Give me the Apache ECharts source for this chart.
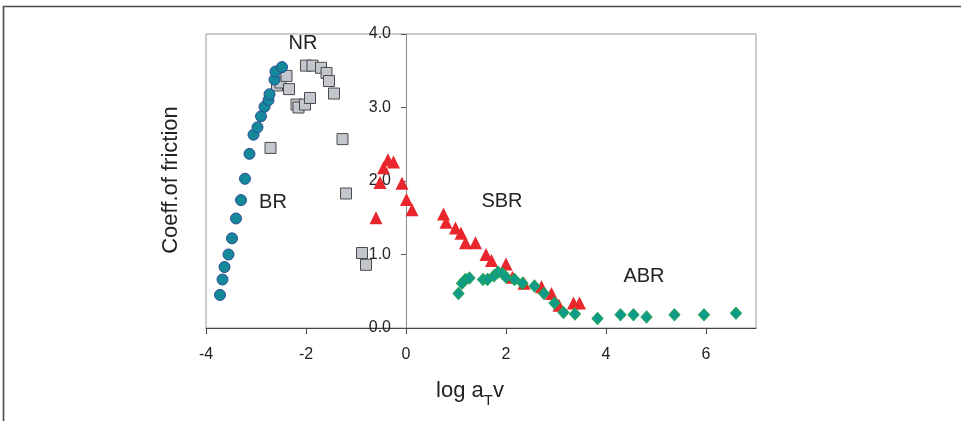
<!DOCTYPE html>
<html>
<head>
<meta charset="utf-8">
<script src="https://cdn.jsdelivr.net/npm/echarts@6/dist/echarts.min.js"></script>
<style>
  html, body { margin: 0; padding: 0; background: #fff; }
  #chart { width: 961px; height: 421px; }
</style>
</head>
<body>
<div id="chart"></div>
<script>
// ---- Data (log aT v, coefficient of friction) ----
const brX = [-3.72, -3.67, -3.63, -3.55, -3.48, -3.40, -3.30, -3.22, -3.13, -3.05, -2.97, -2.90, -2.83, -2.75, -2.73, -2.63, -2.61, -2.48];
const brY = [0.45, 0.66, 0.83, 1.00, 1.22, 1.49, 1.74, 2.03, 2.37, 2.63, 2.73, 2.88, 3.01, 3.10, 3.18, 3.38, 3.49, 3.55];

const nrX = [-2.71, -2.58, -2.51, -2.39, -2.34, -2.19, -2.15, -2.02, -1.92, -2.00, -1.87, -1.70, -1.59, -1.54, -1.44, -1.27, -1.20, -0.88, -0.80];
const nrY = [2.45, 3.30, 3.34, 3.43, 3.25, 3.04, 3.00, 3.04, 3.13, 3.57, 3.57, 3.54, 3.47, 3.36, 3.19, 2.57, 1.83, 1.02, 0.86];

const sbrX = [-0.60, -0.52, -0.45, -0.36, -0.25, -0.08, 0.01, 0.12, 0.75, 0.80, 0.99, 1.10, 1.19, 1.39, 1.60, 1.71, 2.00, 2.13, 2.36, 2.71, 2.91, 3.06, 3.35, 3.47];
const sbrY = [1.50, 1.98, 2.18, 2.29, 2.26, 1.97, 1.75, 1.61, 1.55, 1.44, 1.36, 1.29, 1.16, 1.16, 1.00, 0.92, 0.87, 0.69, 0.61, 0.56, 0.47, 0.31, 0.34, 0.34];

const abrX = [1.05, 1.12, 1.19, 1.27, 1.54, 1.63, 1.76, 1.84, 1.93, 2.00, 2.17, 2.33, 2.57, 2.76, 2.97, 3.15, 3.38, 3.83, 4.29, 4.55, 4.81, 5.37, 5.96, 6.60];
const abrY = [0.47, 0.61, 0.66, 0.68, 0.66, 0.66, 0.71, 0.76, 0.74, 0.69, 0.66, 0.61, 0.57, 0.47, 0.34, 0.21, 0.19, 0.13, 0.18, 0.18, 0.15, 0.18, 0.18, 0.20];

const xTicks = [-4, -2, 0, 2, 4, 6];
const yTicks = [0, 1, 2, 3, 4];

const labels = [
  { text: 'NR', x: 303, y: 43 },
  { text: 'BR', x: 273, y: 202 },
  { text: 'SBR', x: 502, y: 201 },
  { text: 'ABR', x: 644, y: 276 }
];

const zip = (xs, ys) => xs.map((x, i) => [x, ys[i]]);
const FONT = 'Liberation Sans, Arial, sans-serif';

const GRID = { left: 206, right: 205, top: 34, bottom: 93 };
const X_MIN = -4, X_MAX = 7;
const plotW = 961 - GRID.left - GRID.right;
// y axis sits on x = 0: shift it right from the grid's left edge
const yAxisOffset = -Math.round((0 - X_MIN) / (X_MAX - X_MIN) * plotW);

const chart = echarts.init(document.getElementById('chart'), null, { renderer: 'canvas' });

const graphics = [
  {
    type: 'rect', silent: true, z: 100,
    shape: { x: 3.5, y: 6.5, width: 1000, height: 500 },
    style: { fill: 'none', stroke: '#4a4a4a', lineWidth: 1.6 }
  },
  {
    type: 'text', silent: true,
    x: 171, y: 180, rotation: Math.PI / 2,
    style: { text: 'Coeff.of friction', font: '22px ' + FONT, fill: '#222', align: 'center', verticalAlign: 'middle' }
  },
  {
    type: 'text', silent: true,
    x: 470, y: 387,
    style: {
      text: '{a|log a}{s|T}{a|v}', align: 'center', verticalAlign: 'middle',
      rich: {
        a: { fontSize: 22, fontFamily: FONT, fill: '#222', lineHeight: 30, verticalAlign: 'bottom' },
        s: { fontSize: 15, fontFamily: FONT, fill: '#222', lineHeight: 30, verticalAlign: 'bottom', padding: [0, 0, -6, 0] }
      }
    }
  }
].concat(labels.map(l => ({
  type: 'text', silent: true, x: l.x, y: l.y,
  style: { text: l.text, font: '20px ' + FONT, fill: '#222', align: 'center', verticalAlign: 'middle' }
})));

chart.setOption({
  animation: false,
  backgroundColor: '#fff',
  grid: Object.assign({ show: true, borderColor: '#9a9a9a', borderWidth: 1, backgroundColor: 'transparent' }, GRID),
  xAxis: {
    type: 'value', min: X_MIN, max: X_MAX,
    axisLine: { onZero: false, lineStyle: { color: '#444', width: 1 } },
    axisTick: { show: true, length: 6, customValues: xTicks, lineStyle: { color: '#444' } },
    axisLabel: { customValues: xTicks, fontSize: 16, fontFamily: FONT, color: '#222', margin: 19 },
    splitLine: { show: false }
  },
  yAxis: {
    type: 'value', min: 0, max: 4, interval: 1, position: 'left', offset: yAxisOffset,
    axisLine: { show: true, onZero: false, lineStyle: { color: '#8a8a8a', width: 1 } },
    axisTick: { show: true, length: 5, customValues: yTicks, lineStyle: { color: '#555' } },
    axisLabel: {
      customValues: yTicks, fontSize: 16, fontFamily: FONT, color: '#222', margin: 15,
      formatter: v => v.toFixed(1)
    },
    splitLine: { show: false }
  },
  graphic: graphics,
  series: [
    {
      name: 'NR', type: 'scatter', symbol: 'rect', symbolSize: 11,
      data: zip(nrX, nrY),
      itemStyle: { color: '#c3c6cc', borderColor: '#4a4a4a', borderWidth: 1, opacity: 1 }
    },
    {
      name: 'BR', type: 'scatter', symbol: 'circle', symbolSize: 11,
      data: zip(brX, brY),
      itemStyle: { color: '#13899a', borderColor: '#2c4a98', borderWidth: 1, opacity: 1 }
    },
    {
      name: 'SBR', type: 'scatter', symbol: 'triangle', symbolSize: 13,
      data: zip(sbrX, sbrY),
      itemStyle: { color: '#e8262c', opacity: 1 }
    },
    {
      name: 'ABR', type: 'scatter', symbol: 'diamond', symbolSize: [11, 12],
      data: zip(abrX, abrY),
      itemStyle: { color: '#0f9a8a', borderColor: '#22a455', borderWidth: 1, opacity: 1 }
    }
  ]
});
</script>
</body>
</html>
